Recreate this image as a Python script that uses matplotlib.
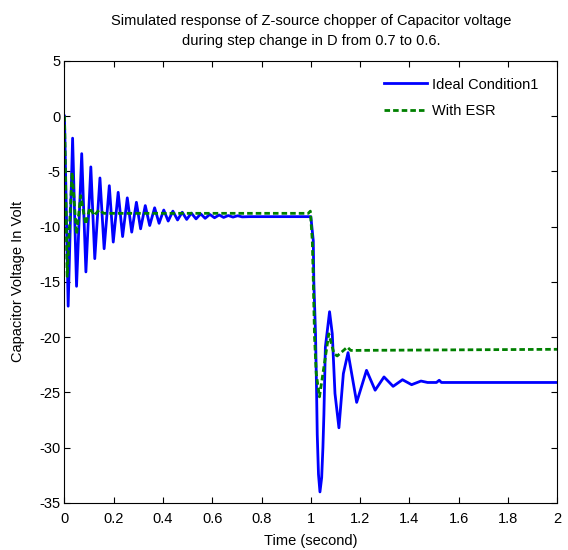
import matplotlib
matplotlib.use("Agg")
import matplotlib.pyplot as plt
from matplotlib.ticker import FuncFormatter

plt.rcParams['font.family'] = ['Liberation Sans', 'DejaVu Sans']
plt.rcParams['axes.unicode_minus'] = False

title = "Simulated response of Z-source chopper of Capacitor voltage\nduring step change in D from 0.7 to 0.6."
xlabel = "Time (second)"
ylabel = "Capacitor Voltage In Volt"
series_names = ["Ideal Condition1", "With ESR"]

ideal_t = [0, 0.015, 0.033, 0.049, 0.070, 0.087, 0.107, 0.123, 0.144, 0.161, 0.182, 0.198,
           0.218, 0.236, 0.255, 0.273, 0.292, 0.309, 0.328, 0.346, 0.366, 0.384, 0.403, 0.421,
           0.440, 0.459, 0.478, 0.496, 0.515, 0.534, 0.553, 0.571, 0.590, 0.609, 0.628, 0.646,
           0.665, 0.684, 0.703, 0.721, 0.75, 1.0,
           1.010, 1.012, 1.019, 1.023, 1.026, 1.031, 1.037, 1.044, 1.049, 1.053, 1.059, 1.076,
           1.087, 1.098, 1.114, 1.132, 1.151, 1.186, 1.226, 1.261, 1.297, 1.334, 1.372, 1.409,
           1.447, 1.474, 1.510, 1.521, 1.530, 2.0]
ideal_v = [0, -17.2, -2.0, -15.4, -3.4, -14.1, -4.6, -12.9, -5.6, -12.0, -6.3, -11.4,
           -6.9, -10.9, -7.4, -10.5, -7.8, -10.2, -8.1, -9.9, -8.3, -9.7, -8.5, -9.5,
           -8.6, -9.4, -8.7, -9.35, -8.78, -9.3, -8.85, -9.25, -8.9, -9.2, -8.95, -9.17,
           -9.0, -9.14, -9.02, -9.12, -9.1, -9.1,
           -11.3, -14.9, -19.7, -24.5, -28.8, -32.4, -34.0, -32.7, -30.0, -27.0, -20.9, -17.7,
           -19.7, -25.1, -28.2, -23.3, -21.4, -25.9, -23.0, -24.8, -23.6, -24.45, -23.85, -24.3,
           -23.97, -24.1, -24.1, -23.9, -24.1, -24.1]

esr_t = [0, 0.011, 0.031, 0.049, 0.066, 0.086, 0.103, 0.121, 0.140, 0.160, 0.99, 0.998,
         1.006, 1.010, 1.015, 1.022, 1.035, 1.053, 1.073, 1.094, 1.107, 1.148, 1.162, 2.0]
esr_v = [0, -14.5, -5.1, -10.7, -7.2, -9.8, -8.3, -9.0, -8.5, -8.8, -8.8, -8.6,
         -11.3, -14.9, -20.0, -23.3, -25.4, -22.7, -19.7, -21.5, -21.7, -20.9, -21.2, -21.1]

x_ticks = [0, 0.2, 0.4, 0.6, 0.8, 1.0, 1.2, 1.4, 1.6, 1.8, 2.0]
y_ticks = [5, 0, -5, -10, -15, -20, -25, -30, -35]

fig = plt.figure(figsize=(5.68, 5.5), dpi=100)
ax = fig.add_axes([0.1135, 0.0855, 0.8675, 0.804])

ax.plot(ideal_t, ideal_v, color=(0, 0, 1), lw=2.0, label=series_names[0],
        solid_joinstyle='round')
ax.plot(esr_t, esr_v, color=(0, 0.5, 0), lw=2.0, ls=(0, (2.0, 1.1)), label=series_names[1])

ax.set_xlim(0, 2)
ax.set_ylim(-35, 5)
ax.set_xticks(x_ticks)
ax.set_yticks(y_ticks)
ax.xaxis.set_major_formatter(FuncFormatter(lambda v, p: "%g" % round(v, 2)))
ax.tick_params(direction='in', top=True, right=True, labelsize=10.5, length=4, width=0.8)
ax.tick_params(axis='x', pad=6.5)
ax.tick_params(axis='y', pad=3)
for s in ax.spines.values():
    s.set_linewidth(0.8)

ax.set_title(title, fontsize=10.5, pad=11, linespacing=1.55)
ax.set_xlabel(xlabel, fontsize=10.5, labelpad=6)
ax.set_ylabel(ylabel, fontsize=10.5, labelpad=10)

leg = ax.legend(loc='upper left', bbox_to_anchor=(0.649, 0.962), fontsize=10.5,
                frameon=False, handlelength=2.9, handletextpad=0.35,
                borderaxespad=0, borderpad=0, labelspacing=0.85)

fig.savefig("out.png", dpi=100)
